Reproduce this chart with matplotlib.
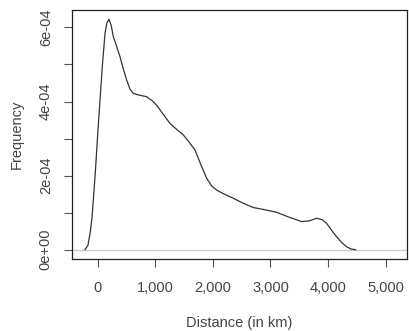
import matplotlib
matplotlib.use("Agg")
import matplotlib.pyplot as plt
from matplotlib.ticker import FuncFormatter

# Density estimate
distance_km = [-220, -170, -132, -100, -76, -45, -17, 10, 40, 80, 127, 160, 196,
               235, 271, 330, 387, 445, 503, 561, 618, 700, 850, 940, 1024, 1140,
               1255, 1370, 1486, 1580, 1690, 1790, 1892, 1980, 2066, 2200, 2354,
               2520, 2700, 2900, 3108, 3320, 3541, 3680, 3802, 3900, 3976, 4060,
               4149, 4240, 4323, 4400, 4480]
frequency = [0.0, 0.12e-4, 0.44e-4, 0.85e-4, 1.34e-4, 2.0e-4, 2.69e-4, 3.35e-4,
             4.04e-4, 4.94e-4, 5.84e-4, 6.12e-4, 6.22e-4, 6.05e-4, 5.75e-4,
             5.48e-4, 5.21e-4, 4.88e-4, 4.58e-4, 4.33e-4, 4.22e-4, 4.18e-4,
             4.13e-4, 4.03e-4, 3.90e-4, 3.65e-4, 3.41e-4, 3.25e-4, 3.10e-4,
             2.92e-4, 2.69e-4, 2.30e-4, 1.93e-4, 1.72e-4, 1.61e-4, 1.50e-4,
             1.39e-4, 1.26e-4, 1.14e-4, 1.08e-4, 1.01e-4, 0.88e-4, 0.76e-4,
             0.78e-4, 0.85e-4, 0.81e-4, 0.71e-4, 0.53e-4, 0.35e-4, 0.19e-4,
             0.08e-4, 0.02e-4, 0.0]

x_ticks = [0, 1000, 2000, 3000, 4000, 5000]
y_ticks = [0, 1e-4, 2e-4, 3e-4, 4e-4, 5e-4, 6e-4]
y_labels = {0: "0e+00", 2e-4: "2e-04", 4e-4: "4e-04", 6e-4: "6e-04"}

plt.rcParams['font.family'] = ['Liberation Sans', 'DejaVu Sans']

fig = plt.figure(figsize=(4.09, 3.31), dpi=100)
W, H = 409, 331
ax = fig.add_axes([72.3 / W, 1 - 259 / H, (406.7 - 72.3) / W, (259 - 10) / H])

ax.axhline(0, color="#cccccc", lw=1.0, zorder=1)
ax.plot(distance_km, frequency, color="#333333", lw=0.9, zorder=2)

ax.set_xlim(-441, 5366)
ax.set_ylim(-2.5e-5, 6.47e-4)

ax.set_xticks(x_ticks)
ax.xaxis.set_major_formatter(FuncFormatter(lambda v, p: f"{int(round(v)):,}"))
ax.set_yticks(y_ticks)
ax.set_yticklabels([y_labels.get(round(v, 6), "") for v in y_ticks],
                   rotation=90, va="center")

ax.tick_params(axis="both", direction="out", length=6, width=0.8,
               color="#555555", labelsize=10.5, labelcolor="#444444")
ax.tick_params(axis="x", pad=10)
ax.tick_params(axis="y", pad=8)

for s in ax.spines.values():
    s.set_color("#222222")
    s.set_linewidth(0.9)

ax.set_xlabel("Distance (in km)", fontsize=10.5, color="#444444", labelpad=15)
ax.set_ylabel("Frequency", fontsize=10.5, color="#444444", labelpad=11)

fig.savefig("out.png", dpi=100)
